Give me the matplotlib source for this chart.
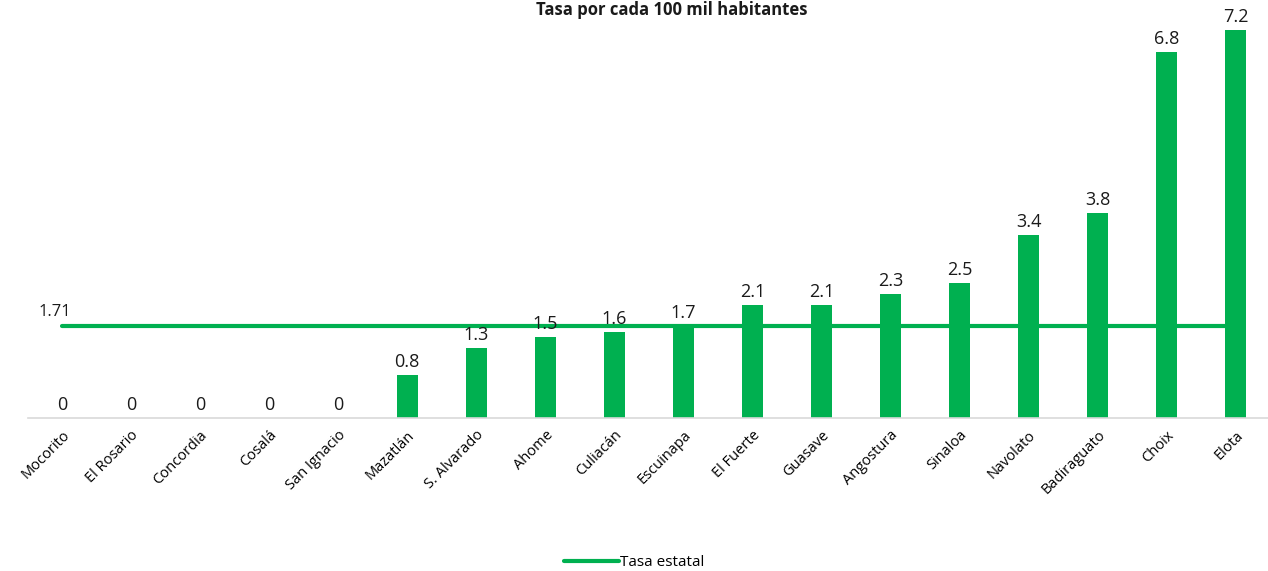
import matplotlib
matplotlib.use('Agg')
import matplotlib.pyplot as plt

municipios = ['Mocorito', 'El Rosario', 'Concordia', 'Cosalá', 'San Ignacio', 'Mazatlán',
              'S. Alvarado', 'Ahome', 'Culiacán', 'Escuinapa', 'El Fuerte', 'Guasave',
              'Angostura', 'Sinaloa', 'Navolato', 'Badiraguato', 'Choix', 'Elota']
tasas = [0, 0, 0, 0, 0, 0.8, 1.3, 1.5, 1.6, 1.7, 2.1, 2.1, 2.3, 2.5, 3.4, 3.8, 6.8, 7.2]
tasa_estatal = 1.71

GREEN = '#00B050'
plt.rcParams['font.family'] = ['Open Sans', 'DejaVu Sans']

fig = plt.figure(figsize=(12.68, 5.71), dpi=100)
fig.patch.set_facecolor('white')
ax = fig.add_axes([0.0217, 0.268, 0.98, 0.732])

x = list(range(len(municipios)))
ax.bar(x, tasas, width=0.3, color=GREEN, zorder=2)
line, = ax.plot(x, [tasa_estatal] * len(x), color=GREEN, linewidth=3, zorder=3,
                solid_capstyle='round', label='Tasa estatal')

for i, v in zip(x, tasas):
    txt = '0' if v == 0 else f'{v:.1f}'
    ax.annotate(txt, (i, v), xytext=(0, 3), textcoords='offset points',
                ha='center', va='bottom', fontsize=13, color='#1a1a1a')
ax.annotate(f'{tasa_estatal:.2f}', (x[0], tasa_estatal), xytext=(-5, 4),
            textcoords='offset points', ha='center', va='bottom', fontsize=12, color='#1a1a1a')

ax.set_xlim(-0.5, len(x) - 0.5)
ax.set_ylim(0, 7.76)
ax.set_yticks([])
ax.set_xticks(x)
ax.set_xticklabels(municipios, rotation=45, ha='right', rotation_mode='anchor', fontsize=10.5)
ax.tick_params(axis='x', length=0, pad=7)
for s in ['top', 'right', 'left']:
    ax.spines[s].set_visible(False)
ax.spines['bottom'].set_color('#d9d9d9')
ax.spines['bottom'].set_linewidth(1.2)

fig.text(0.53, 0.999, 'Tasa por cada 100 mil habitantes', ha='center', va='top',
         fontsize=12, fontweight='bold', color='#1a1a1a')

fig.legend(handles=[line], loc='center', bbox_to_anchor=(0.5, 0.015), frameon=False,
           fontsize=11, handlelength=3.6, handletextpad=0.1)

plt.savefig('out.png', dpi=100, facecolor='white')
plt.close()
